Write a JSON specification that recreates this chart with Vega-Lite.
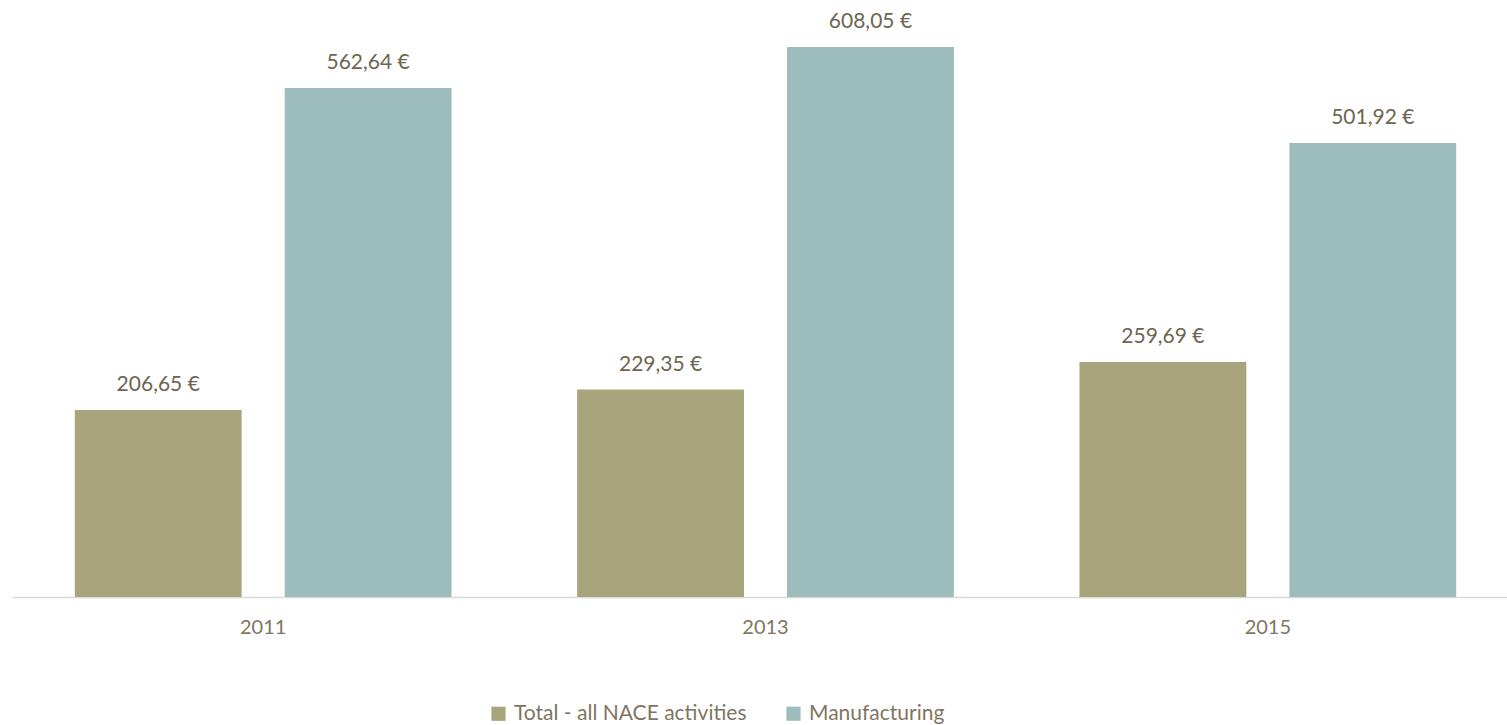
{
  "$schema": "https://vega.github.io/schema/vega-lite/v6.json",
  "width": 1507,
  "height": 588,
  "autosize": {"type": "none"},
  "padding": {"left": 12, "top": 9, "right": 0, "bottom": 128},
  "background": "white",
  "config": {
    "view": {"stroke": null},
    "font": "Lato",
    "locale": {"number": {"decimal": ",", "thousands": ".", "grouping": [3], "currency": ["", " €"]}}
  },
  "data": {
    "values": [
      {"year": "2011", "series": "Total - all NACE activities", "value": 206.65},
      {"year": "2011", "series": "Manufacturing", "value": 562.64},
      {"year": "2013", "series": "Total - all NACE activities", "value": 229.35},
      {"year": "2013", "series": "Manufacturing", "value": 608.05},
      {"year": "2015", "series": "Total - all NACE activities", "value": 259.69},
      {"year": "2015", "series": "Manufacturing", "value": 501.92}
    ]
  },
  "encoding": {
    "x": {
      "field": "year", "type": "nominal", "title": null,
      "scale": {"paddingInner": 0.25, "paddingOuter": 0.125},
      "axis": {"labelAngle": 0, "ticks": false, "domainColor": "#D9D9D9", "domainWidth": 1.5, "labelColor": "#7F7560", "labelFontSize": 20, "labelPadding": 20, "grid": false}
    },
    "xOffset": {"field": "series", "type": "nominal", "sort": ["Total - all NACE activities", "Manufacturing"], "scale": {"paddingInner": 0.205, "paddingOuter": 0}},
    "y": {
      "field": "value", "type": "quantitative", "title": null,
      "scale": {"domain": [0, 650], "nice": false},
      "axis": null
    }
  },
  "layer": [
    {
      "mark": {"type": "bar"},
      "encoding": {
        "color": {
          "field": "series", "type": "nominal", "sort": ["Total - all NACE activities", "Manufacturing"],
          "scale": {"domain": ["Total - all NACE activities", "Manufacturing"], "range": ["#A8A47B", "#9DBDBC"]},
          "legend": {"title": null, "orient": "none", "direction": "horizontal", "legendX": 476, "legendY": 694, "symbolType": "square", "symbolSize": 200, "symbolStrokeWidth": 0, "labelFontSize": 21, "labelColor": "#7F7560", "labelLimit": 0, "columnPadding": 36, "labelOffset": 5}
        }
      }
    },
    {
      "mark": {"type": "text", "dy": -25, "baseline": "middle", "fontSize": 21, "color": "#6E6550"},
      "encoding": {
        "text": {"field": "value", "type": "quantitative", "format": "$.2f"}
      }
    }
  ]
}
